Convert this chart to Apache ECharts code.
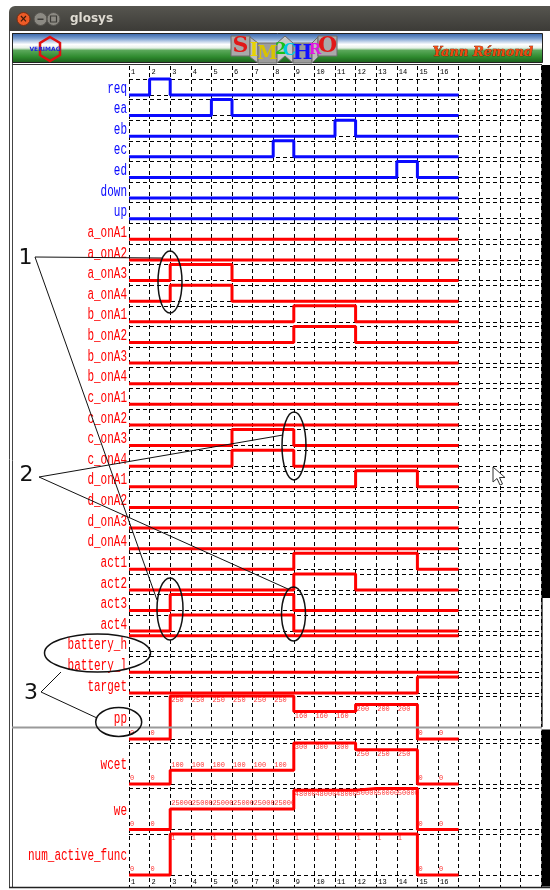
<!DOCTYPE html>
<html>
<head>
<meta charset="utf-8">
<script src="https://cdn.jsdelivr.net/npm/echarts@6/dist/echarts.min.js"></script>
<style>
  html, body { margin: 0; padding: 0; background: #fff; }
  #chart { width: 550px; height: 890px; }
</style>
</head>
<body>
<div id="chart"></div>
<script>
// time ruler
const tickLabels = ['1', '2', '3', '4', '5', '6', '7', '8', '9', '10', '11', '12', '13', '14', '15', '16'];

// binary signals, one value per slot 1..16
const req = [0, 1, 0, 0, 0, 0, 0, 0, 0, 0, 0, 0, 0, 0, 0, 0];
const ea = [0, 0, 0, 0, 1, 0, 0, 0, 0, 0, 0, 0, 0, 0, 0, 0];
const eb = [0, 0, 0, 0, 0, 0, 0, 0, 0, 0, 1, 0, 0, 0, 0, 0];
const ec = [0, 0, 0, 0, 0, 0, 0, 1, 0, 0, 0, 0, 0, 0, 0, 0];
const ed = [0, 0, 0, 0, 0, 0, 0, 0, 0, 0, 0, 0, 0, 1, 0, 0];
const down = [0, 0, 0, 0, 0, 0, 0, 0, 0, 0, 0, 0, 0, 0, 0, 0];
const up = [0, 0, 0, 0, 0, 0, 0, 0, 0, 0, 0, 0, 0, 0, 0, 0];
const a_onA1 = [0, 0, 0, 0, 0, 0, 0, 0, 0, 0, 0, 0, 0, 0, 0, 0];
const a_onA2 = [0, 0, 0, 0, 0, 0, 0, 0, 0, 0, 0, 0, 0, 0, 0, 0];
const a_onA3 = [0, 0, 1, 1, 1, 0, 0, 0, 0, 0, 0, 0, 0, 0, 0, 0];
const a_onA4 = [0, 0, 1, 1, 1, 0, 0, 0, 0, 0, 0, 0, 0, 0, 0, 0];
const b_onA1 = [0, 0, 0, 0, 0, 0, 0, 0, 1, 1, 1, 0, 0, 0, 0, 0];
const b_onA2 = [0, 0, 0, 0, 0, 0, 0, 0, 1, 1, 1, 0, 0, 0, 0, 0];
const b_onA3 = [0, 0, 0, 0, 0, 0, 0, 0, 0, 0, 0, 0, 0, 0, 0, 0];
const b_onA4 = [0, 0, 0, 0, 0, 0, 0, 0, 0, 0, 0, 0, 0, 0, 0, 0];
const c_onA1 = [0, 0, 0, 0, 0, 0, 0, 0, 0, 0, 0, 0, 0, 0, 0, 0];
const c_onA2 = [0, 0, 0, 0, 0, 0, 0, 0, 0, 0, 0, 0, 0, 0, 0, 0];
const c_onA3 = [0, 0, 0, 0, 0, 1, 1, 1, 0, 0, 0, 0, 0, 0, 0, 0];
const c_onA4 = [0, 0, 0, 0, 0, 1, 1, 1, 0, 0, 0, 0, 0, 0, 0, 0];
const d_onA1 = [0, 0, 0, 0, 0, 0, 0, 0, 0, 0, 0, 1, 1, 1, 0, 0];
const d_onA2 = [0, 0, 0, 0, 0, 0, 0, 0, 0, 0, 0, 0, 0, 0, 0, 0];
const d_onA3 = [0, 0, 0, 0, 0, 0, 0, 0, 0, 0, 0, 0, 0, 0, 0, 0];
const d_onA4 = [0, 0, 0, 0, 0, 0, 0, 0, 0, 0, 0, 0, 0, 0, 0, 0];
const act1 = [0, 0, 0, 0, 0, 0, 0, 0, 1, 1, 1, 1, 1, 1, 0, 0];
const act2 = [0, 0, 0, 0, 0, 0, 0, 0, 1, 1, 1, 0, 0, 0, 0, 0];
const act3 = [0, 0, 1, 1, 1, 1, 1, 1, 0, 0, 0, 0, 0, 0, 0, 0];
const act4 = [0, 0, 1, 1, 1, 1, 1, 1, 0, 0, 0, 0, 0, 0, 0, 0];
const battery_h = [1, 1, 1, 1, 1, 1, 1, 1, 1, 1, 1, 1, 1, 1, 1, 1];
const battery_l = [0, 0, 0, 0, 0, 0, 0, 0, 0, 0, 0, 0, 0, 0, 0, 0];
const target = [0, 0, 0, 0, 0, 0, 0, 0, 0, 0, 0, 0, 0, 0, 1, 1];

// valued signals
const pp = [0, 0, 250, 250, 250, 250, 250, 250, 160, 160, 160, 200, 200, 200, 0, 0];
const wcet = [0, 0, 100, 100, 100, 100, 100, 100, 300, 300, 300, 250, 250, 250, 0, 0];
const we = [0, 0, 25000, 25000, 25000, 25000, 25000, 25000, 48000, 48000, 48000, 50000, 50000, 50000, 0, 0];
const num_active_func = [0, 0, 1, 1, 1, 1, 1, 1, 1, 1, 1, 1, 1, 1, 0, 0];

const binarySignals = [
  ['req', req], ['ea', ea], ['eb', eb], ['ec', ec], ['ed', ed], ['down', down], ['up', up],
  ['a_onA1', a_onA1], ['a_onA2', a_onA2], ['a_onA3', a_onA3], ['a_onA4', a_onA4],
  ['b_onA1', b_onA1], ['b_onA2', b_onA2], ['b_onA3', b_onA3], ['b_onA4', b_onA4],
  ['c_onA1', c_onA1], ['c_onA2', c_onA2], ['c_onA3', c_onA3], ['c_onA4', c_onA4],
  ['d_onA1', d_onA1], ['d_onA2', d_onA2], ['d_onA3', d_onA3], ['d_onA4', d_onA4],
  ['act1', act1], ['act2', act2], ['act3', act3], ['act4', act4],
  ['battery_h', battery_h], ['battery_l', battery_l], ['target', target]
];
const valuedSignals = [['pp', pp], ['wcet', wcet], ['we', we], ['num_active_func', num_active_func]];
const blueCount = 7;

// layout
const LEFT = 129, WIDTH = 412;
const ROW_TOP = 79, ROW_PITCH = 20.62, ROW_H = 16;
const valuedTops = [696, 743, 788.5, 834];
const valuedHeights = [43, 41, 41, 41];

const BLUE = '#0a0aff', RED = '#ff0000';
const DASH = [4, 3];
const MONO = 'Liberation Mono, DejaVu Sans Mono, monospace';

function steps(vals) {
  const pts = vals.map((v, i) => [i + 1, v]);
  pts.push([vals.length + 1, vals[vals.length - 1]]);
  return pts;
}

const grid = [{ left: LEFT, width: WIDTH, top: 66, height: 822 }];
const xAxis = [
  {
    gridIndex: 0, type: 'value', position: 'top', min: 1, max: 21, interval: 1,
    axisLine: { show: false }, axisTick: { show: false },
    axisLabel: {
      inside: true, margin: 3, align: 'left', padding: [0, 0, 0, 2],
      fontSize: 7, fontFamily: MONO, color: '#000', showMinLabel: true,
      formatter: (v) => (v >= 1 && v <= tickLabels.length ? tickLabels[v - 1] : '')
    },
    splitLine: { show: true, lineStyle: { color: '#000', width: 1, type: DASH } }
  },
  {
    gridIndex: 0, type: 'value', position: 'bottom', min: 1, max: 21, interval: 1,
    axisLine: { show: false }, axisTick: { show: false }, splitLine: { show: false },
    axisLabel: {
      inside: true, margin: 2, align: 'left', padding: [0, 0, 0, 2],
      fontSize: 7, fontFamily: MONO, color: '#000', showMinLabel: true,
      formatter: (v) => (v >= 1 && v <= tickLabels.length ? tickLabels[v - 1] : '')
    }
  }
];
const yAxis = [{ gridIndex: 0, type: 'value', show: false, min: 0, max: 1 }];
const series = [];
const graphic = [];

function addRow(name, vals, top, h, max, color, valued) {
  const gi = grid.length;
  grid.push({ left: LEFT, width: WIDTH, top: top, height: h });
  xAxis.push({ gridIndex: gi, type: 'value', min: 1, max: 21, show: false });
  yAxis.push({
    gridIndex: gi, type: 'value', min: 0, max: max, interval: max,
    axisLine: { show: false }, axisTick: { show: false }, axisLabel: { show: false },
    splitLine: { show: true, lineStyle: { color: '#000', width: 1, type: DASH } }
  });
  series.push({
    type: 'line', name: name, xAxisIndex: gi + 1, yAxisIndex: gi, step: 'end',
    data: steps(vals), symbol: 'none', clip: false, silent: true,
    lineStyle: { color: color, width: 3 }
  });
  if (valued) {
    series.push({
      type: 'scatter', xAxisIndex: gi + 1, yAxisIndex: gi, symbolSize: 1, clip: false, silent: true,
      itemStyle: { color: 'rgba(0,0,0,0)' },
      data: vals.map((v, i) => ({
        value: [i + 1, v],
        label: {
          show: true, position: v / max < 0.6 ? [1.5, -8.5] : [1.5, 1.5],
          color: RED, fontSize: 7, fontFamily: MONO, formatter: String(v)
        }
      }))
    });
  }
  // signal name, narrow and tall like the original bitmap font
  graphic.push({
    type: 'text', z: 50, x: 127, y: top + h / 2 + 1.5, scaleY: 1.42,
    style: {
      text: name, x: 0, y: 0, fill: color, font: '11px ' + MONO,
      textAlign: 'right', textVerticalAlign: 'middle', align: 'right', verticalAlign: 'middle'
    }
  });
}

binarySignals.forEach(([name, vals], k) => {
  addRow(name, vals, ROW_TOP + ROW_PITCH * k, ROW_H, 1, k < blueCount ? BLUE : RED, false);
});
valuedSignals.forEach(([name, vals], k) => {
  addRow(name, vals, valuedTops[k], valuedHeights[k], Math.max(...vals), RED, true);
});

// window chrome & banner
const chrome = [
  { type: 'rect', shape: { x: 9, y: 6, width: 541, height: 25, r: [6, 0, 0, 0] },
    style: { fill: { type: 'linear', x: 0, y: 0, x2: 0, y2: 1, colorStops: [{ offset: 0, color: '#56554f' }, { offset: 1, color: '#3c3b37' }] } } },
  { type: 'circle', shape: { cx: 23.5, cy: 19, r: 6.5 }, style: { fill: '#ee5b27', stroke: '#7a2e12', lineWidth: 1 } },
  { type: 'text', style: { text: '×', x: 23.5, y: 19, fill: '#3b1a0a', font: 'bold 10px DejaVu Sans', textAlign: 'center', textVerticalAlign: 'middle', align: 'center', verticalAlign: 'middle' } },
  { type: 'circle', shape: { cx: 40.5, cy: 19, r: 6.5 }, style: { fill: '#8c8a83', stroke: '#55534e', lineWidth: 1 } },
  { type: 'rect', shape: { x: 37.5, y: 18.5, width: 6, height: 1.5 }, style: { fill: '#3c3b37' } },
  { type: 'circle', shape: { cx: 53.5, cy: 19, r: 6.5 }, style: { fill: '#8c8a83', stroke: '#55534e', lineWidth: 1 } },
  { type: 'rect', shape: { x: 50.5, y: 16, width: 6, height: 6 }, style: { fill: 'none', stroke: '#3c3b37', lineWidth: 1.2 } },
  { type: 'text', style: { text: 'glosys', x: 70, y: 19, fill: '#dfdbd2', font: 'bold 12px DejaVu Sans', textVerticalAlign: 'middle', verticalAlign: 'middle' } },
  { type: 'line', shape: { x1: 9.5, y1: 31, x2: 9.5, y2: 888 }, style: { stroke: '#444', lineWidth: 1 } },
  { type: 'line', shape: { x1: 12.5, y1: 33, x2: 12.5, y2: 888 }, style: { stroke: '#444', lineWidth: 1 } },
  { type: 'rect', shape: { x: 12.5, y: 33.5, width: 530, height: 29 },
    style: { stroke: '#222', lineWidth: 1, fill: { type: 'linear', x: 0, y: 0, x2: 0, y2: 1, colorStops: [
      { offset: 0, color: '#2f5ea6' }, { offset: 0.18, color: '#7a9fd0' }, { offset: 0.38, color: '#ffffff' },
      { offset: 0.5, color: '#e6f0e6' }, { offset: 0.58, color: '#5aa85a' }, { offset: 0.8, color: '#2e8a2e' }, { offset: 1, color: '#1a5a1a' }] } } },
  // VERIMAG logo
  { type: 'polygon', shape: { points: [[50, 37], [60, 43], [60, 55], [50, 61], [40, 55], [40, 43]] }, style: { fill: 'none', stroke: '#e01010', lineWidth: 2.5 } },
  { type: 'text', style: { text: 'VERIMAG', x: 45, y: 49, fill: '#2020e0', font: 'bold 6px DejaVu Sans', textAlign: 'center', textVerticalAlign: 'middle', align: 'center', verticalAlign: 'middle' } },
  // SIM2CHRO logo
  { type: 'rect', shape: { x: 231, y: 36, width: 19, height: 20 }, style: { fill: '#a9a9a9', stroke: '#6a6a6a', lineWidth: 1 } },
  { type: 'polygon', shape: { points: [[250, 37], [258, 43], [258, 63], [250, 57]] }, style: { fill: '#bdbdbd', stroke: '#6a6a6a', lineWidth: 1 } },
  { type: 'rect', shape: { x: 258, y: 43, width: 19, height: 20 }, style: { fill: '#9c9c9c', stroke: '#6a6a6a', lineWidth: 1 } },
  { type: 'polygon', shape: { points: [[277, 43], [285, 36], [293, 43], [293, 63], [285, 56], [277, 63]] }, style: { fill: '#c8c8c8', stroke: '#6a6a6a', lineWidth: 1 } },
  { type: 'rect', shape: { x: 293, y: 43, width: 19, height: 20 }, style: { fill: '#9c9c9c', stroke: '#6a6a6a', lineWidth: 1 } },
  { type: 'polygon', shape: { points: [[312, 43], [318, 37], [318, 57], [312, 63]] }, style: { fill: '#bdbdbd', stroke: '#6a6a6a', lineWidth: 1 } },
  { type: 'rect', shape: { x: 318, y: 36, width: 19, height: 20 }, style: { fill: '#a9a9a9', stroke: '#6a6a6a', lineWidth: 1 } }
];
const logoLetters = [['S', 240.5, 46, '#e01818', 22], ['I', 254, 51, '#e8d400', 18], ['M', 267.5, 54, '#d8c400', 18],
  ['2', 281, 50, '#18c018', 17], ['C', 289.5, 51, '#00c8e0', 17], ['H', 302.5, 54, '#1010ff', 21],
  ['R', 315, 50, '#e018e0', 15], ['O', 327.5, 46, '#e01818', 22]];
logoLetters.forEach(([t, x, y, c, s]) => chrome.push({
  type: 'text', style: { text: t, x: x, y: y, fill: c, font: 'bold ' + s + 'px DejaVu Serif', textAlign: 'center', textVerticalAlign: 'middle', align: 'center', verticalAlign: 'middle' }
}));
chrome.push(
  { type: 'text', style: { text: 'Yann Rémond', x: 533, y: 53, font: 'italic bold 13px DejaVu Serif',
    fill: '#f04a12', stroke: '#5a1000', lineWidth: 0.6,
    textShadowColor: '#222', textShadowOffsetX: 1, textShadowOffsetY: 1, textShadowBlur: 0,
    textAlign: 'right', textVerticalAlign: 'middle', align: 'right', verticalAlign: 'middle' } },
  // panel borders and scrollbars
  { type: 'line', z: 100, shape: { x1: 12, y1: 64.5, x2: 542, y2: 64.5 }, style: { stroke: '#333', lineWidth: 1 } },
  { type: 'rect', z: 100, shape: { x: 12, y: 726.5, width: 530, height: 2 }, style: { fill: '#9a9a9a' } },
  { type: 'line', z: 100, shape: { x1: 9, y1: 887.5, x2: 550, y2: 887.5 }, style: { stroke: '#222', lineWidth: 1.5 } },
  { type: 'rect', z: 100, shape: { x: 541.5, y: 65, width: 9, height: 533 }, style: { fill: '#000' } },
  { type: 'rect', z: 100, shape: { x: 542.5, y: 598, width: 8, height: 128.5 }, style: { fill: '#fff' } },
  { type: 'line', z: 100, shape: { x1: 542, y1: 598, x2: 542, y2: 727 }, style: { stroke: '#000', lineWidth: 1.2 } },
  { type: 'rect', z: 100, shape: { x: 541.5, y: 729.5, width: 9, height: 157 }, style: { fill: '#000' } }
);

// annotations
const ann = [];
const annLines = [[35, 257, 163, 258], [35, 257, 157, 600], [39, 477, 283, 435], [39, 477, 288, 589], [41, 692, 61, 672], [41, 692, 97, 718]];
annLines.forEach(([x1, y1, x2, y2]) => ann.push({ type: 'line', z: 110, shape: { x1, y1, x2, y2 }, style: { stroke: '#111', lineWidth: 1 } }));
const annEllipses = [[170, 282, 12, 31], [170, 609, 13, 31], [294, 446, 12, 34], [293.5, 614, 12, 27], [97.5, 653, 53, 19], [118.7, 722, 23, 14.5]];
annEllipses.forEach(([cx, cy, rx, ry]) => ann.push({ type: 'ellipse', z: 110, shape: { cx, cy, rx, ry }, style: { fill: 'none', stroke: '#111', lineWidth: 1.5 } }));
[['1', 25.5, 258], ['2', 26.5, 475], ['3', 31, 693]].forEach(([t, x, y]) => ann.push({
  type: 'text', z: 110, style: { text: t, x: x, y: y, fill: '#111', font: '22px DejaVu Sans', textAlign: 'center', textVerticalAlign: 'middle', align: 'center', verticalAlign: 'middle' }
}));
ann.push({ type: 'polygon', z: 110, shape: { points: [[493, 467], [493, 482], [497, 478.5], [500, 485], [502.5, 484], [499.5, 477.5], [505, 477.5]] },
  style: { fill: '#fff', stroke: '#333', lineWidth: 1 } });

const chart = echarts.init(document.getElementById('chart'), null, { renderer: 'canvas' });
chart.setOption({
  animation: false,
  backgroundColor: '#fff',
  grid: grid,
  xAxis: xAxis,
  yAxis: yAxis,
  series: series,
  graphic: { elements: chrome.concat(graphic, ann) }
});
</script>
</body>
</html>
